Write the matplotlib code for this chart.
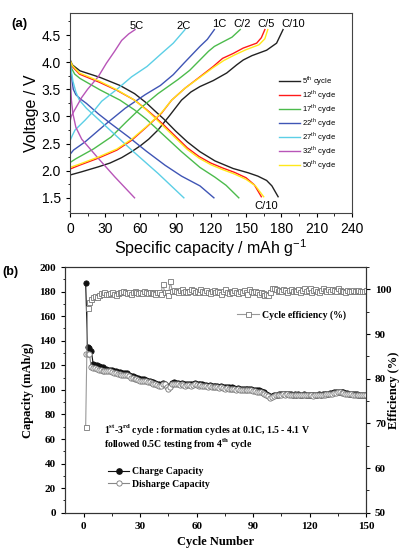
import numpy as np
import matplotlib
matplotlib.use("Agg")
import matplotlib.pyplot as plt
from matplotlib.lines import Line2D
from matplotlib.ticker import MultipleLocator

plt.rcParams['mathtext.fontset'] = 'custom'
plt.rcParams['mathtext.rm'] = 'Liberation Sans'
plt.rcParams['mathtext.bf'] = 'Liberation Serif:bold'

# ---------------- panel (a): voltage profiles ----------------
cycle_names = ['5$^{\\mathrm{th}}$ cycle', '12$^{\\mathrm{th}}$ cycle', '17$^{\\mathrm{th}}$ cycle',
               '22$^{\\mathrm{th}}$ cycle', '27$^{\\mathrm{th}}$ cycle', '32$^{\\mathrm{th}}$ cycle',
               '50$^{\\mathrm{th}}$ cycle']
cycle_colors = ['#222222', '#ff1a1a', '#4cbb4c', '#3f55b5', '#5ccfe6', '#b855b8', '#ffe81a']

# charge curves (capacity, voltage)
chg_cap = [
    [0, 0, 10, 24, 34, 44, 52.5, 60, 67, 75, 85, 95, 103, 110.7, 122, 133.5, 142, 147.6, 155, 167.5, 176, 181.5],
    [0, 0, 8, 24, 40, 52.5, 65, 78, 86.6, 98, 110.7, 122, 130, 139, 147.6, 159, 163, 166],
    [0, 0, 5, 20, 35, 48, 61, 75, 92, 102, 110.7, 118, 123, 130, 138, 145],
    [0, 0, 3, 12.8, 30, 47, 64, 77, 88, 97, 110.7, 117, 123],
    [0, 0, 2, 4.3, 12.8, 21, 27, 40, 52.5, 65.6, 78, 88, 98],
    [0, 0, 1, 4, 10, 15, 24, 31, 38, 44, 50, 55.5],
    [0, 0, 8, 24, 40, 52.5, 65, 78, 86.6, 98, 110.7, 122, 131, 140, 150, 161, 166, 168.5],
]
chg_volt = [
    [1.5, 1.92, 1.98, 2.07, 2.14, 2.24, 2.35, 2.46, 2.58, 2.75, 3.02, 3.3, 3.45, 3.55, 3.66, 3.8, 3.95, 4.04, 4.12, 4.22, 4.35, 4.6],
    [1.5, 2.03, 2.1, 2.23, 2.38, 2.56, 2.8, 3.06, 3.3, 3.52, 3.73, 3.92, 4.07, 4.16, 4.26, 4.35, 4.45, 4.6],
    [1.5, 2.15, 2.22, 2.4, 2.62, 2.9, 3.17, 3.42, 3.68, 3.85, 4.04, 4.2, 4.29, 4.37, 4.46, 4.6],
    [1.5, 2.3, 2.38, 2.53, 2.85, 3.15, 3.4, 3.57, 3.77, 3.98, 4.29, 4.42, 4.6],
    [1.5, 2.55, 2.65, 2.75, 2.93, 3.12, 3.28, 3.5, 3.73, 3.92, 4.16, 4.35, 4.6],
    [1.5, 2.9, 3.0, 3.12, 3.35, 3.5, 3.73, 3.98, 4.2, 4.4, 4.52, 4.6],
    [1.5, 2.06, 2.12, 2.25, 2.4, 2.58, 2.81, 3.07, 3.3, 3.52, 3.72, 3.9, 4.03, 4.13, 4.23, 4.32, 4.43, 4.6],
]
# discharge curves
dis_cap = [
    [0, 0, 2, 8.5, 25.5, 42.6, 55, 65, 72.4, 80, 90, 100, 110.7, 123.5, 139, 152, 160, 167.5, 172, 177.3],
    [0, 0, 2, 8, 25, 40, 55, 65, 72, 80, 90, 100, 110, 120, 130, 140, 150, 157, 163],
    [0, 0, 1.5, 4, 8.5, 25.5, 42.6, 55, 65, 75, 85, 95, 110.7, 123.5, 133, 143.8],
    [0, 0, 0.8, 1.8, 2.8, 5, 9, 14, 24, 34, 50, 65, 81, 95, 110.7, 122.6],
    [0, 0, 1, 2.5, 5, 8, 14, 25, 52.5, 75, 97],
    [0, 0, 0.5, 1.2, 2.5, 5, 10, 24, 38, 55],
    [0, 0, 2, 8, 25, 40, 55, 65, 72, 80, 90, 100, 110, 120, 130, 140, 150, 158, 165],
]
dis_volt = [
    [4.6, 4.05, 3.95, 3.84, 3.72, 3.57, 3.42, 3.25, 3.1, 2.95, 2.73, 2.53, 2.35, 2.18, 2.04, 1.96, 1.9, 1.82, 1.72, 1.52],
    [4.6, 4.03, 3.92, 3.78, 3.63, 3.48, 3.3, 3.13, 3.0, 2.84, 2.63, 2.42, 2.26, 2.14, 2.05, 1.97, 1.87, 1.74, 1.52],
    [4.6, 4.0, 3.88, 3.78, 3.7, 3.49, 3.3, 3.12, 2.95, 2.75, 2.55, 2.35, 2.06, 1.88, 1.73, 1.5],
    [4.6, 3.98, 3.85, 3.65, 3.5, 3.4, 3.32, 3.24, 3.05, 2.88, 2.62, 2.36, 2.1, 1.9, 1.72, 1.5],
    [4.6, 4.02, 3.85, 3.65, 3.45, 3.3, 3.15, 2.93, 2.38, 1.95, 1.5],
    [4.6, 4.0, 3.6, 3.3, 3.05, 2.8, 2.58, 2.23, 1.89, 1.5],
    [4.6, 4.04, 3.94, 3.8, 3.65, 3.49, 3.3, 3.12, 2.98, 2.81, 2.6, 2.39, 2.23, 2.11, 2.02, 1.94, 1.84, 1.72, 1.52],
]

rate_labels = ['5C', '2C', '1C', 'C/2', 'C/5', 'C/10']
rate_x = [56.8, 97, 127, 146.5, 166.7, 190]
rate_y = [4.67, 4.67, 4.7, 4.71, 4.7, 4.71]

# ---------------- panel (b): cycling ----------------
cycles = np.arange(1, 151)
charge_capacity = [
    187, 135, 134, 132, 121, 120.5, 120, 119.5, 119, 118.5,
    117, 117, 116.5, 116.5, 116, 115.5, 115, 114.5, 114.5, 114,
    114, 113.5, 113.5, 112.5, 111.5, 111, 110.5, 110, 109.5, 109,
    108.5, 108.5, 108, 107.5, 107, 106.5, 106, 105.5, 105, 104.5,
    104, 105.5, 105, 103, 102, 103.5, 105.5, 106, 105.5, 105.5,
    105, 105.5, 105, 104.5, 105, 105, 104.5, 105, 105.5, 105,
    104.5, 105, 104.5, 104, 104, 103.5, 104, 103.5, 103, 103,
    103, 102.5, 103, 102.5, 102, 102.5, 102, 101.5, 102, 101.5,
    101, 101.5, 101, 100.5, 101, 100.5, 100.5, 101, 100.5, 100,
    100, 99.5, 99.5, 99, 98.5, 98, 97, 96, 94.5, 95,
    95.5, 96, 96, 96.5, 96.5, 97, 96.5, 97, 96.5, 96.5,
    96, 96.5, 96, 96.5, 96, 96, 96.5, 96, 96, 96,
    96, 95.5, 96, 96, 96.5, 96, 96.5, 96.5, 97, 97,
    97.5, 97.5, 98, 98, 98.5, 98.5, 98, 98, 97.5, 97.5,
    97, 97, 96.5, 96.5, 96.5, 96, 96, 96, 96, 96,
]
discharge_capacity = [
    129, 129, 129, 118.5, 118, 117.5, 117, 116.5, 116, 115.5,
    115, 115.5, 115, 115, 114.5, 114, 113.5, 113, 113, 112.5,
    112.5, 112, 112, 111, 110, 109.5, 109, 108.5, 108, 107.5,
    107.5, 107, 107, 106.5, 106, 105.5, 105, 104.5, 104, 103.5,
    103, 105, 104.5, 102, 100.5, 102.5, 104.5, 105, 104.5, 104.5,
    104, 104.5, 104, 103.5, 104, 104, 103.5, 104, 104.5, 104,
    103.5, 104, 103.5, 103, 103, 102.5, 103, 102.5, 102, 102,
    102, 101.5, 102, 101.5, 101, 101.5, 101, 100.5, 101, 100.5,
    100, 100.5, 100, 99.5, 100, 99.5, 99.5, 100, 99.5, 99,
    99, 98.5, 98.5, 98, 97.5, 97, 96, 95, 93.5, 94,
    95, 95.5, 95.5, 96, 96, 96.5, 96, 96.5, 96, 96,
    95.5, 96, 95.5, 96, 95.5, 95.5, 96, 95.5, 95.5, 95.5,
    95.5, 95, 95.5, 95.5, 96, 95.5, 96, 96, 96.5, 96.5,
    97, 97, 97.5, 97.5, 98, 98, 97.5, 97.5, 97, 97,
    96.5, 96.5, 96, 96, 96, 95.5, 95.5, 95.5, 95.5, 95.5,
]
efficiency = [
    69.2, 95.9, 97.2, 97.8, 98.3, 98.5, 98.4, 98.8, 99.1, 99.0,
    99.3, 99.0, 98.9, 99.2, 99.4, 99.0, 98.8, 99.2, 99.5, 99.3,
    99.6, 99.4, 99.2, 99.5, 99.0, 99.3, 99.6, 99.4, 99.1, 99.5,
    99.2, 99.6, 99.3, 99.1, 99.4, 99.5, 99.2, 99.0, 99.3, 99.4,
    99.0, 101.2, 99.4, 99.3, 98.7, 101.8, 99.6, 99.9, 99.7, 99.4,
    99.8, 100.0, 99.5, 99.7, 99.3, 99.6, 100.1, 99.8, 99.4, 99.7,
    99.5, 100.0, 99.6, 99.3, 99.8, 99.5, 99.2, 99.6, 99.9, 99.4,
    99.7, 99.3, 98.9, 99.6, 100.0, 99.5, 99.1, 99.7, 99.4, 99.8,
    99.5, 99.1, 99.6, 99.3, 99.9, 99.4, 99.0, 100.1, 99.6, 99.3,
    99.7, 99.4, 98.9, 99.5, 99.2, 98.8, 99.0, 98.7, 99.3, 100.4,
    100.2, 100.0, 99.7, 99.9, 99.6, 100.0, 99.8, 99.5, 99.9, 100.1,
    99.7, 99.9, 99.6, 100.0, 99.5, 99.8, 100.2, 99.6, 99.9, 100.3,
    99.4, 99.9, 100.1, 99.7, 99.5, 99.9, 100.2, 99.8, 99.6, 100.0,
    99.7, 100.1, 99.8, 99.6, 100.3, 99.9, 99.7, 99.6, 99.5, 99.8,
    99.7, 99.6, 99.9, 99.7, 99.6, 99.8, 99.7, 99.6, 99.7, 99.8,
]

fig = plt.figure(figsize=(4.06, 5.5), dpi=100)

# ---- (a) ----
sans = 'Liberation Sans'
ax1 = fig.add_axes([0.1724, 0.6127, 0.6939, 0.3631])
for k in range(len(cycle_names)):
    ax1.plot(chg_cap[k], chg_volt[k], color=cycle_colors[k], lw=1.0, label=cycle_names[k])
    ax1.plot(dis_cap[k], dis_volt[k], color=cycle_colors[k], lw=1.0)
for lab, x, y in zip(rate_labels, rate_x, rate_y):
    ax1.text(x, y, lab, ha='center', va='center', fontsize=8, family=sans)
ax1.text(167.5, 1.35, 'C/10', ha='center', va='center', fontsize=8, family=sans)
ax1.set_xlim(0, 240)
ax1.set_ylim(1.22, 4.9)
ax1.xaxis.set_major_locator(MultipleLocator(30))
ax1.xaxis.set_minor_locator(MultipleLocator(15))
ax1.yaxis.set_major_locator(MultipleLocator(0.5))
ax1.yaxis.set_minor_locator(MultipleLocator(0.25))
ax1.set_yticks([1.5, 2.0, 2.5, 3.0, 3.5, 4.0, 4.5])
ax1.tick_params(which='major', direction='out', length=3, width=0.8, labelsize=10)
ax1.tick_params(which='minor', direction='out', length=1.8, width=0.6)
for t in ax1.get_xticklabels() + ax1.get_yticklabels():
    t.set_family(sans)
ax1.set_xlabel('Specific capacity / mAh g$^{\\mathrm{-1}}$', fontsize=11.5, family=sans, labelpad=1)
ax1.set_ylabel('Voltage / V', fontsize=11.5, family=sans, labelpad=2)
for s in ax1.spines.values():
    s.set_color('#444444')
    s.set_linewidth(0.8)
leg = ax1.legend(loc='upper left', bbox_to_anchor=(0.73, 0.71), frameon=False,
                 handlelength=2.8, handleheight=0.6, labelspacing=0.0, handletextpad=0.3, borderaxespad=0,
                 prop={'family': sans, 'size': 5.5})
fig.text(0.049, 0.956, '(a)', fontsize=9.5, fontweight='bold', family=sans, ha='center', va='center')

# ---- (b) ----
serif = 'Liberation Serif'
ax2 = fig.add_axes([0.160, 0.0678, 0.7415, 0.4467])
ax2.plot(cycles, charge_capacity, '-o', color='#111111', lw=0.8, ms=3.8, mfc='#111111', mec='#111111', mew=0.6)
ax2.plot(cycles, discharge_capacity, '-o', color='#888888', lw=0.8, ms=3.8, mfc='white', mec='#777777', mew=0.6)
ax2.set_xlim(-10, 150)
ax2.set_ylim(0, 200)
ax2.xaxis.set_major_locator(MultipleLocator(30))
ax2.xaxis.set_minor_locator(MultipleLocator(15))
ax2.yaxis.set_major_locator(MultipleLocator(20))
ax2.yaxis.set_minor_locator(MultipleLocator(10))
ax2.tick_params(which='major', direction='out', length=3, width=0.8, labelsize=8)
ax2.tick_params(which='minor', direction='out', length=1.8, width=0.6)
for t in ax2.get_xticklabels() + ax2.get_yticklabels():
    t.set_family(serif)
    t.set_fontweight('bold')
ax2.set_xlabel('Cycle Number', fontsize=9, family=serif, fontweight='bold', labelpad=4)
ax2.set_ylabel('Capacity (mAh/g)', fontsize=9, family=serif, fontweight='bold', labelpad=4)

ax3 = ax2.twinx()
ax3.plot(cycles, efficiency, '-s', color='#999999', lw=0.8, ms=3.6, mfc='white', mec='#777777', mew=0.6)
ax3.set_ylim(50, 105)
ax3.set_yticks([50, 60, 70, 80, 90, 100])
ax3.yaxis.set_minor_locator(MultipleLocator(5))
ax3.tick_params(which='major', direction='out', length=3, width=0.8, labelsize=8)
ax3.tick_params(which='minor', direction='out', length=1.8, width=0.6)
for t in ax3.get_yticklabels():
    t.set_family(serif)
    t.set_fontweight('bold')
ax3.set_ylabel('Efficiency (%)', fontsize=9, family=serif, fontweight='bold')
ax3.yaxis.set_label_coords(1.072, 0.5)
for a in (ax2, ax3):
    for s in a.spines.values():
        s.set_color('#333333')
        s.set_linewidth(0.8)

h_eff = [Line2D([], [], color='#999999', lw=0.8, marker='s', ms=3.6, mfc='white', mec='#777777', mew=0.6)]
ax3.legend(h_eff, ['Cycle efficiency (%)'], loc='upper right', bbox_to_anchor=(0.945, 0.84), frameon=False,
           handlelength=2.2, handletextpad=0.3, borderaxespad=0,
           prop={'family': serif, 'weight': 'bold', 'size': 7})

h_cap = [Line2D([], [], color='#111111', lw=0.8, marker='o', ms=3.8, mfc='#111111', mec='#111111'),
         Line2D([], [], color='#888888', lw=0.8, marker='o', ms=3.8, mfc='white', mec='#777777', mew=0.6)]
ax2.legend(h_cap, ['Charge Capacity', 'Disharge Capacity'], loc='upper left', bbox_to_anchor=(0.13, 0.20),
           frameon=False, handlelength=2.2, handletextpad=0.3, labelspacing=0.35, borderaxespad=0,
           prop={'family': serif, 'weight': 'bold', 'size': 7})

ax2.text(11, 67.3, '1$^{\\mathbf{st}}$-3$^{\\mathbf{rd}}$ cycle : formation cycles at 0.1C, 1.5 - 4.1 V',
         fontsize=7, family=serif, fontweight='bold', va='center')
ax2.text(11, 55.7, 'followed 0.5C testing from 4$^{\\mathbf{th}}$ cycle',
         fontsize=7, family=serif, fontweight='bold', va='center')
fig.text(0.025, 0.505, '(b)', fontsize=9, fontweight='bold', family=sans, ha='center', va='center')

fig.savefig('out.png', dpi=100)
